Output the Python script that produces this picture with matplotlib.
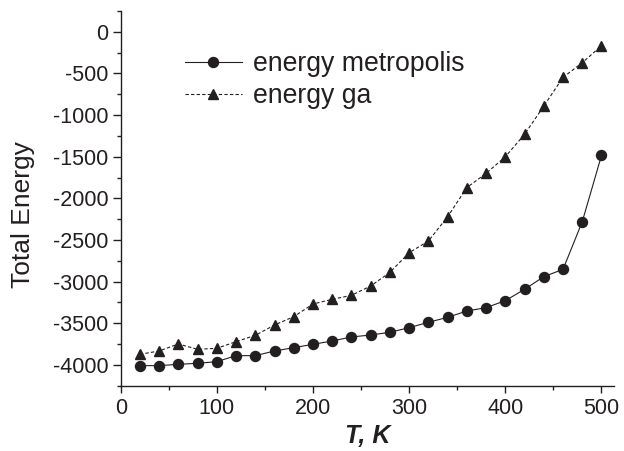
import matplotlib
matplotlib.use("Agg")
import matplotlib.pyplot as plt
from matplotlib.ticker import MultipleLocator

T = list(range(20, 501, 20))
energy_metropolis = [-4008, -4008, -3992, -3980, -3960, -3888, -3888, -3832, -3792, -3752,
                     -3712, -3664, -3640, -3608, -3552, -3488, -3428, -3352, -3312, -3228,
                     -3092, -2940, -2852, -2280, -1485]
energy_ga = [-3872, -3832, -3748, -3812, -3800, -3720, -3644, -3520, -3420, -3268,
             -3212, -3164, -3052, -2888, -2652, -2512, -2220, -1870, -1700, -1500,
             -1232, -892, -548, -372, -168]
labels = ["energy metropolis", "energy ga"]

ink = "#231f20"
plt.rcParams['font.family'] = ['Liberation Sans', 'DejaVu Sans']
plt.rcParams['axes.unicode_minus'] = False

fig = plt.figure(figsize=(6.24, 4.51), dpi=100)
ax = fig.add_axes([120.7/624, 1-385.8/451, 493.3/624, 374.9/451])

ax.plot(T, energy_metropolis, color=ink, lw=0.8, ls='-', marker='o', ms=7.2,
        mfc=ink, mec=ink, label=labels[0])
ax.plot(T, energy_ga, color=ink, lw=0.8, ls=(0, (3, 2)), marker='^', ms=7.8,
        mfc=ink, mec=ink, label=labels[1])

ax.set_xlim(0, 513)
ax.set_ylim(-4250, 250)
ax.xaxis.set_major_locator(MultipleLocator(100))
ax.xaxis.set_minor_locator(MultipleLocator(50))
ax.yaxis.set_major_locator(MultipleLocator(500))
ax.yaxis.set_minor_locator(MultipleLocator(250))

for s in ['top', 'right']:
    ax.spines[s].set_visible(False)
for s in ['left', 'bottom']:
    ax.spines[s].set_color(ink)
    ax.spines[s].set_linewidth(1.0)

ax.tick_params(axis='y', which='major', direction='out', length=5.8, width=1.0,
               color=ink, labelcolor=ink, labelsize=15.5, pad=3)
ax.tick_params(axis='x', which='major', direction='out', length=5.0, width=1.0,
               color=ink, labelcolor=ink, labelsize=15.5, pad=3.5)
ax.tick_params(axis='both', which='minor', direction='out', length=3, width=1.0, color=ink)

ax.set_xlabel("T, K", fontsize=18, fontweight='bold', fontstyle='italic', color=ink, labelpad=4)
ax.set_ylabel("Total Energy", fontsize=19, color=ink)
ax.yaxis.set_label_coords(-0.174, 0.456)

leg = ax.legend(loc='upper left', bbox_to_anchor=(185/624, 1-51/451), bbox_transform=fig.transFigure,
                frameon=False, fontsize=19.2, handlelength=2.12, handletextpad=0.43,
                labelspacing=0.23, borderpad=0, borderaxespad=0)
for t in leg.get_texts():
    t.set_color(ink)

fig.savefig("out.png", dpi=100)
